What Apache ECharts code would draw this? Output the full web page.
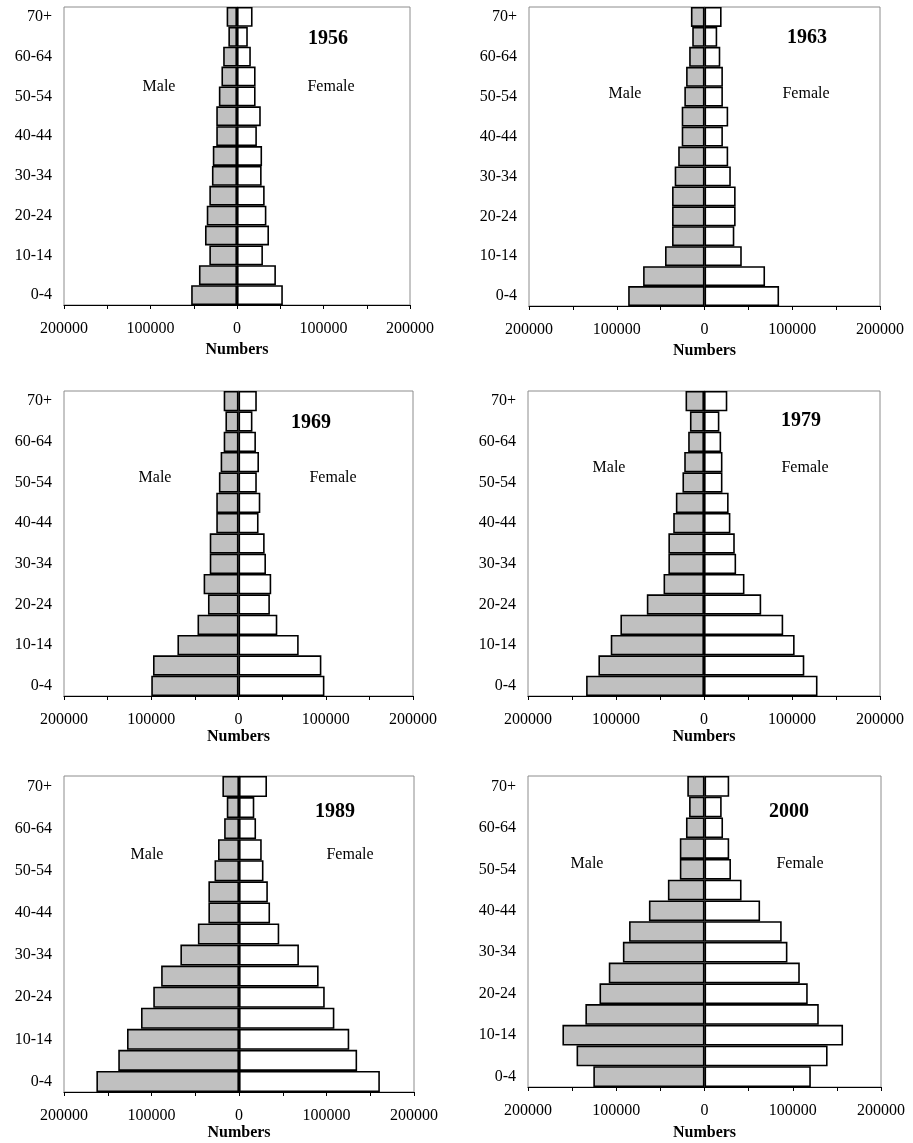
<!DOCTYPE html>
<html>
<head>
<meta charset="utf-8">
<script src="https://cdn.jsdelivr.net/npm/echarts@6/dist/echarts.min.js"></script>
<style>
html,body{margin:0;padding:0;background:#fff;}
#chart{width:913px;height:1143px;}
</style>
</head>
<body>
<div id="chart"></div>
<script>
const ageGroups = ['0-4','5-9','10-14','15-19','20-24','25-29','30-34','35-39','40-44','45-49','50-54','55-59','60-64','65-69','70+'];
const years = ['1956','1963','1969','1979','1989','2000'];
const xTicks = [-200000, -100000, 0, 100000, 200000];

const male1956   = [53000, 44000, 32000, 37000, 35000, 32000, 29000, 28000, 24000, 24000, 21000, 18000, 16000, 10000, 12000];
const female1956 = [53000, 45000, 30000, 37000, 34000, 32000, 28500, 29000, 23000, 27500, 21500, 21500, 16000, 12500, 18000];

const male1963   = [87000, 70000, 45000, 37000, 37000, 37000, 34000, 30000, 26000, 26000, 23000, 21000, 17500, 14000, 15500];
const female1963 = [85000, 69000, 42500, 34000, 35500, 35500, 30000, 27000, 21000, 27000, 21000, 21000, 18000, 14500, 19500];

const male1969   = [100000, 98000, 70000, 47000, 35000, 40000, 33000, 33000, 25500, 25500, 22500, 20500, 17000, 15000, 17000];
const female1969 = [98500, 95000, 69000, 44500, 36000, 37500, 31500, 30000, 23000, 25000, 21000, 23500, 20000, 16000, 21000];

const male1979   = [134000, 120000, 106000, 95000, 65000, 46000, 40500, 40500, 35000, 32000, 24500, 22500, 18000, 16000, 21000];
const female1979 = [129000, 114000, 103000, 90000, 65000, 46000, 36500, 35000, 30000, 28000, 21000, 21000, 19500, 17500, 26500];

const male1989   = [163000, 138000, 128000, 112000, 98000, 89000, 67000, 47000, 35000, 35000, 28000, 24000, 17000, 14000, 19000];
const female1989 = [161000, 135000, 126000, 109000, 98000, 91000, 68500, 46000, 35500, 33000, 28000, 26000, 19500, 17500, 32000];

const male2000   = [126000, 145000, 161000, 135000, 119000, 108500, 92500, 85500, 63000, 41500, 28000, 28000, 21000, 17500, 19500];
const female2000 = [120500, 139500, 157000, 129500, 117000, 108000, 94000, 87500, 63000, 42000, 30000, 28000, 21000, 19500, 28000];

const maleData = [male1956, male1963, male1969, male1979, male1989, male2000];
const femaleData = [female1956, female1963, female1969, female1979, female1989, female2000];

// layout (pixels)
const grids = [
  {left: 64,  top: 7,   width: 346, height: 298},
  {left: 529, top: 7,   width: 351, height: 299},
  {left: 64,  top: 391, width: 349, height: 305},
  {left: 528, top: 391, width: 352, height: 305},
  {left: 64,  top: 776, width: 350, height: 316},
  {left: 528, top: 776, width: 353, height: 311}
];
const nameGaps = [37, 37, 30, 30, 33, 38];
const yearPos = [[328,39],[807,38],[311,423],[801,421],[335,812],[789,812]];
const malePos = [[159,87],[625,94],[155,478],[609,468],[147,855],[587,864]];
const femalePos = [[331,87],[806,94],[333,478],[805,468],[350,855],[800,864]];

const FONT = '"Liberation Serif", "Times New Roman", serif';

const option = {
  backgroundColor: '#fff',
  animation: false,
  grid: grids.map(g => Object.assign({show: true, borderColor: '#8c8c8c', borderWidth: 1, backgroundColor: 'transparent'}, g)),
  xAxis: grids.map((g, i) => ({
    gridIndex: i,
    type: 'value',
    min: xTicks[0],
    max: xTicks[xTicks.length - 1],
    interval: xTicks[1] - xTicks[0],
    name: 'Numbers',
    nameLocation: 'middle',
    nameGap: nameGaps[i],
    nameTextStyle: {fontFamily: FONT, fontWeight: 'bold', fontSize: 16, color: '#000'},
    axisLine: {show: true, onZero: false, lineStyle: {color: '#000', width: 1.2}},
    axisTick: {show: true, length: 4, lineStyle: {color: '#000'}},
    minorTick: {show: true, splitNumber: 2, length: 4, lineStyle: {color: '#000'}},
    splitLine: {show: false},
    axisLabel: {fontFamily: FONT, fontSize: 16, color: '#000', margin: 16,
      formatter: v => String(Math.abs(v))}
  })),
  yAxis: grids.map((g, i) => ({
    gridIndex: i,
    type: 'category',
    data: ageGroups,
    axisLine: {show: true, lineStyle: {color: '#8c8c8c'}},
    axisTick: {show: false},
    splitLine: {show: false},
    axisLabel: {interval: 1, fontFamily: FONT, fontSize: 16, color: '#000', margin: 12}
  })),
  series: [],
  graphic: []
};

for (let i = 0; i < years.length; i++) {
  option.series.push({
    type: 'bar', name: 'Male ' + years[i],
    xAxisIndex: i, yAxisIndex: i,
    stack: 'pyr' + i,
    data: maleData[i].map(v => -v),
    barCategoryGap: '0%',
    itemStyle: {color: '#c0c0c0', borderColor: '#000', borderWidth: 1.6},
    emphasis: {disabled: true}
  });
  option.series.push({
    type: 'bar', name: 'Female ' + years[i],
    xAxisIndex: i, yAxisIndex: i,
    stack: 'pyr' + i,
    data: femaleData[i],
    barCategoryGap: '0%',
    itemStyle: {color: '#ffffff', borderColor: '#000', borderWidth: 1.6},
    emphasis: {disabled: true}
  });
  option.graphic.push({
    type: 'text', x: yearPos[i][0], y: yearPos[i][1], z: 100,
    style: {text: years[i], font: 'bold 20px ' + FONT, fill: '#000', textAlign: 'center', textVerticalAlign: 'middle'}
  });
  option.graphic.push({
    type: 'text', x: malePos[i][0], y: malePos[i][1], z: 100,
    style: {text: 'Male', font: '16px ' + FONT, fill: '#000', textAlign: 'center', textVerticalAlign: 'middle'}
  });
  option.graphic.push({
    type: 'text', x: femalePos[i][0], y: femalePos[i][1], z: 100,
    style: {text: 'Female', font: '16px ' + FONT, fill: '#000', textAlign: 'center', textVerticalAlign: 'middle'}
  });
}

const chart = echarts.init(document.getElementById('chart'), null, {renderer: 'canvas'});
chart.setOption(option);
</script>
</body>
</html>
